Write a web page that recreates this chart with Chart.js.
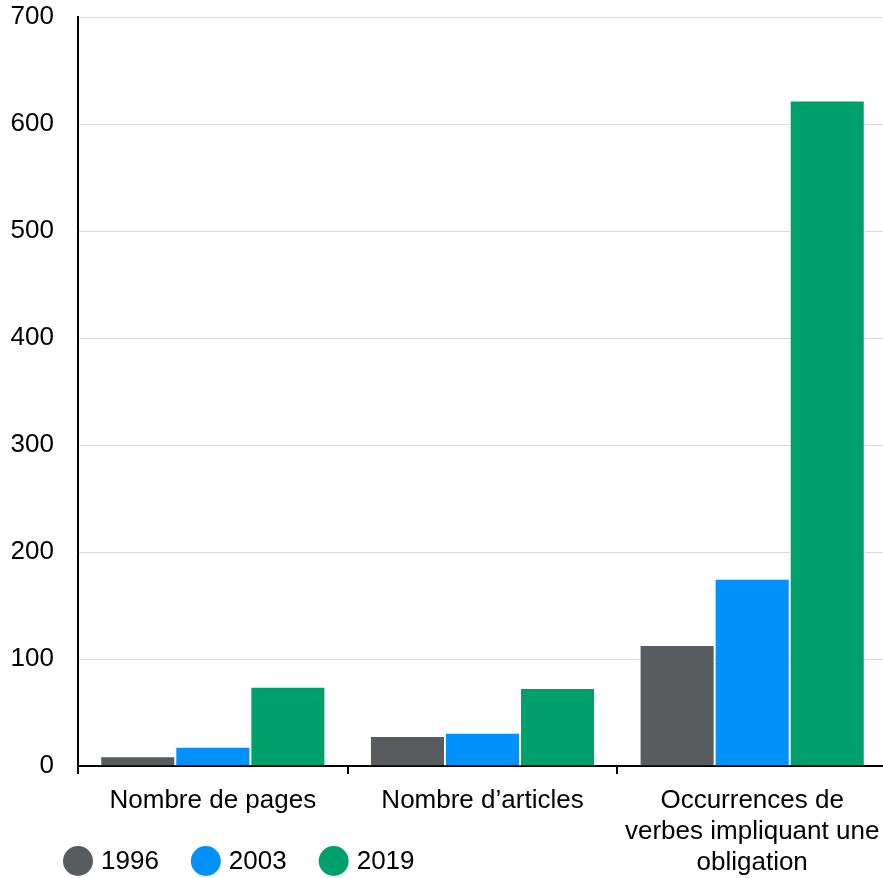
<!DOCTYPE html>
<html><head><meta charset="utf-8">
<script src="https://cdn.jsdelivr.net/npm/chart.js@4"></script>
<style>html,body{margin:0;padding:0;background:#fff;overflow:hidden}#wrap{width:883px;height:878px;overflow:hidden}</style>
</head><body><div id="wrap"><canvas id="c" width="887" height="878"></canvas></div>
<script>
const categories = [['Nombre de pages'], ['Nombre d’articles'], ['Occurrences de', 'verbes impliquant une', 'obligation']];
const seriesNames = ['1996', '2003', '2019'];
const values1996 = [9, 28, 113];
const values2003 = [18, 31, 175];
const values2019 = [74, 73, 622];
const yMin = 0, yMax = 700, yStep = 100;

const colors = ['#595c5f', '#0092fa', '#00a06c'];
const FONT = "'Liberation Sans', Arial, sans-serif";

const legendPlugin = {
  id: 'circleLegend',
  afterDraw(chart) {
    const ctx = chart.ctx;
    ctx.save();
    ctx.font = '26px ' + FONT;
    ctx.textBaseline = 'middle';
    ctx.textAlign = 'left';
    let x = 63;
    const y = 861, r = 15;
    chart.data.datasets.forEach((ds) => {
      ctx.fillStyle = ds.backgroundColor;
      ctx.beginPath();
      ctx.arc(x + r, y, r, 0, Math.PI * 2);
      ctx.fill();
      ctx.fillStyle = '#000';
      const tx = x + 2 * r + 8;
      ctx.fillText(ds.label, tx, y + 1);
      x = tx + ctx.measureText(ds.label).width + 32;
    });
    ctx.restore();
  }
};

new Chart(document.getElementById('c'), {
  type: 'bar',
  data: {
    labels: categories,
    datasets: [values1996, values2003, values2019].map((v, i) => ({
      label: seriesNames[i],
      data: v,
      backgroundColor: colors[i],
      borderColor: '#ffffff',
      borderWidth: 1,
      barPercentage: 1.0,
      categoryPercentage: 0.835
    }))
  },
  options: {
    responsive: false,
    animation: false,
    devicePixelRatio: 1,
    layout: { padding: { left: 10, top: 17, right: 0, bottom: 0 } },
    plugins: { legend: { display: false }, tooltip: { enabled: false } },
    scales: {
      x: {
        offset: true,
        grid: { offset: true, drawOnChartArea: false, drawTicks: true, tickLength: 8, color: '#000', lineWidth: 2 },
        border: { color: '#000', width: 2 },
        ticks: { color: '#000', font: { family: FONT, size: 26 }, padding: 11, maxRotation: 0, autoSkip: false },
        afterFit(s) { s.height = 112; s.paddingLeft = 0; s.paddingRight = 0; }
      },
      y: {
        min: yMin, max: yMax,
        grid: { color: '#d9d9d9', lineWidth: 1, drawTicks: false },
        border: { color: '#000', width: 2 },
        ticks: { stepSize: yStep, color: '#000', font: { family: FONT, size: 26 }, padding: 24 },
        afterFit(s) { s.width = 68; s.paddingTop = 0; s.paddingBottom = 0; }
      }
    }
  },
  plugins: [legendPlugin]
});
</script>
</body></html>
